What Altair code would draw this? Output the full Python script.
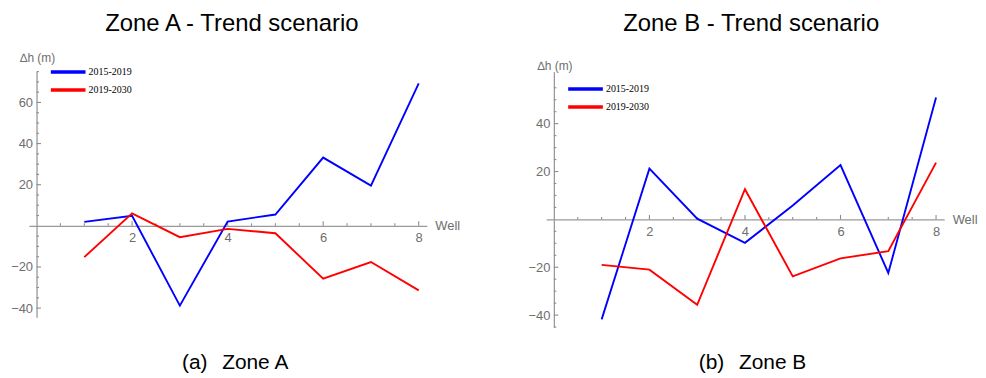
import altair as alt
import pandas as pd

wells = [1, 2, 3, 4, 5, 6, 7, 8]
series_names = ["2015-2019", "2019-2030"]
series_colors = ["#0000FF", "#FF0000"]

zone_a_2015_2019 = [1.9, 4.9, -38.8, 2.1, 5.5, 33.2, 19.6, 69.3]
zone_a_2019_2030 = [-15.2, 6.1, -5.5, -1.5, -3.6, -25.7, -17.6, -31.4]
zone_b_2015_2019 = [-41.8, 21.2, 0.3, -9.8, 5.8, 22.7, -22.4, 50.9]
zone_b_2019_2030 = [-19.0, -21.0, -35.7, 12.6, -23.8, -16.3, -13.3, 23.7]

x_domain = [-0.16, 8.17]
zone_a_y_domain = [-44.5, 75.0]
zone_b_y_domain = [-45.1, 61.75]
x_label_values = [2, 4, 6, 8]
x_minor_ticks = [0.5 * i for i in range(1, 17) if i % 4 != 0]
x_major_ticks = [2, 4, 6, 8]
zone_a_y_labels = [-40, -20, 20, 40, 60]
zone_b_y_labels = [-40, -20, 20, 40]
zone_a_y_minor = [v for v in range(-40, 76, 5) if v % 20 != 0]
zone_b_y_minor = [v for v in range(-45, 56, 5) if v % 20 != 0]
zone_a_y_major = [-40, -20, 20, 40, 60]
zone_b_y_major = [-40, -20, 20, 40]

W = 400
AXIS_GREY = "#999999"
TICK_GREY = "#8c8c8c"
LABEL_GREY = "#6e6e6e"
FONT = "Liberation Sans"
MINOR, MAJOR = 2.5, 4.5


def panel(v1, v2, ydom, H, ylabels, yminor, ymajor, title, title_offset, title_dx,
          ytitle_y, legend_y, caption, caption_offset):
    df = pd.DataFrame({
        "well": wells * 2,
        "dh": v1 + v2,
        "series": [series_names[0]] * len(wells) + [series_names[1]] * len(wells),
    })
    ymin, ymax = ydom
    zero_from_bottom = H * (0 - ymin) / (ymax - ymin)
    x0_from_left = W * (0 - x_domain[0]) / (x_domain[1] - x_domain[0])
    xs = alt.Scale(domain=x_domain, nice=False, zero=False)
    ys = alt.Scale(domain=ydom, nice=False, zero=False)

    color = alt.Color(
        "series:N",
        scale=alt.Scale(domain=series_names, range=series_colors),
        legend=alt.Legend(
            title=None, orient="none", legendX=29, legendY=legend_y,
            symbolType="M-2.05,0H2.05", symbolSize=289, symbolStrokeWidth=3.5,
            labelFont="Liberation Serif", labelFontSize=10, labelColor="black",
            rowPadding=-2, labelOffset=10, padding=0,
        ),
    )

    main = alt.Chart(df).mark_line(strokeWidth=1.9).encode(
        x=alt.X("well:Q", scale=xs, axis=alt.Axis(
            orient="bottom", offset=-zero_from_bottom, values=x_label_values,
            ticks=False, grid=False, domainColor=AXIS_GREY, domainWidth=1.3,
            labelColor=LABEL_GREY, labelFont=FONT, labelFontSize=13, labelPadding=6,
            title="Well", titleX=W + 8, titleY=0, titleAlign="left",
            titleBaseline="middle", titleFont=FONT, titleFontSize=13,
            titleFontWeight="normal", titleColor=LABEL_GREY,
        )),
        y=alt.Y("dh:Q", scale=ys, axis=alt.Axis(
            orient="left", offset=-x0_from_left, values=ylabels,
            ticks=False, grid=False, domainColor=AXIS_GREY, domainWidth=1.3,
            labelColor=LABEL_GREY, labelFont=FONT, labelFontSize=13, labelPadding=4,
            title="∆h (m)", titleAngle=0, titleX=-17, titleY=ytitle_y, titleAlign="left",
            titleBaseline="middle", titleFont=FONT, titleFontSize=12,
            titleFontWeight="normal", titleColor=LABEL_GREY,
        )),
        color=color,
    )

    def x_ticks(vals, size):
        tdf = pd.DataFrame({"t": vals, "z": [0] * len(vals)})
        return alt.Chart(tdf).mark_tick(
            orient="vertical", size=size, thickness=1.1, yOffset=-size / 2,
            color=TICK_GREY, opacity=1,
        ).encode(
            x=alt.X("t:Q", scale=xs, axis=None),
            y=alt.Y("z:Q", scale=ys, axis=None),
        )

    def y_ticks(vals, size):
        tdf = pd.DataFrame({"t": vals, "z": [0] * len(vals)})
        return alt.Chart(tdf).mark_tick(
            orient="horizontal", size=size, thickness=1.1, xOffset=size / 2,
            color=TICK_GREY, opacity=1,
        ).encode(
            x=alt.X("z:Q", scale=xs, axis=None),
            y=alt.Y("t:Q", scale=ys, axis=None),
        )

    layered = alt.layer(
        x_ticks(x_minor_ticks, MINOR),
        x_ticks(x_major_ticks, MAJOR),
        y_ticks(yminor, MINOR),
        y_ticks(ymajor, MAJOR),
        main,
    ).resolve_axis(
        x="independent", y="independent"
    ).properties(
        width=W, height=H,
        title=alt.TitleParams(title, fontSize=24, font=FONT, fontWeight="normal",
                              color="black", anchor="middle", offset=title_offset,
                              dx=title_dx),
    )
    return alt.vconcat(layered, title=alt.TitleParams(
        caption, orient="bottom", fontSize=21, font=FONT, fontWeight="normal",
        color="black", anchor="middle", offset=caption_offset,
    ))


pa = panel(zone_a_2015_2019, zone_a_2019_2030, zone_a_y_domain, 247, zone_a_y_labels,
           zone_a_y_minor, zone_a_y_major, "Zone A - Trend scenario", 16, 4, -14, -10,
           "(a)\u2002\u2009Zone A", 35)
pb = panel(zone_b_2015_2019, zone_b_2019_2030, zone_b_y_domain, 257, zone_b_y_labels,
           zone_b_y_minor, zone_b_y_major, "Zone B - Trend scenario", 24, 6, -6, 7,
           "(b)\u2002\u2009Zone B", 25)

chart = alt.concat(pa, pb, columns=2, spacing=67).resolve_scale(
    color="independent"
).properties(
    padding={"left": 2, "top": 3, "right": 0, "bottom": 0}
).configure_view(stroke=None)

chart.save("out.html", embed_options={"renderer": "svg", "actions": False})
